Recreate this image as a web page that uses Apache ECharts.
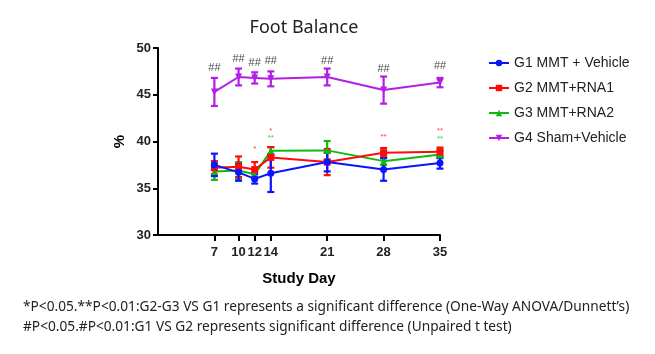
<!DOCTYPE html>
<html>
<head>
<meta charset="utf-8">
<script src="https://cdn.jsdelivr.net/npm/echarts@6/dist/echarts.min.js"></script>
<style>
  html, body { margin: 0; padding: 0; background: #fff; }
  #chart { width: 655px; height: 354px; }
</style>
</head>
<body>
<div id="chart"></div>
<script>
// study days on the x axis
const days = [7, 10, 12, 14, 21, 28, 35];

// group means (%) and SEM
const g1Mean = [37.5, 36.7, 36.0, 36.6, 37.8, 37.0, 37.7];
const g1Err = [1.2, 0.9, 0.5, 2.0, 1.0, 1.2, 0.6];
const g2Mean = [37.2, 37.3, 37.0, 38.3, 37.8, 38.8, 38.9];
const g2Err = [0.7, 1.1, 0.8, 1.1, 1.4, 0.5, 0.45];
const g3Mean = [36.8, 36.9, 36.5, 39.0, 39.05, 37.9, 38.6];
const g3Err = [0.9, 0.9, 0.5, 0.4, 1.0, 0.4, 0.4];
const g4Mean = [45.3, 46.9, 46.8, 46.7, 46.9, 45.5, 46.3];
const g4Err = [1.5, 0.9, 0.6, 0.8, 0.9, 1.45, 0.5];

const groupNames = ["G1 MMT + Vehicle", "G2 MMT+RNA1", "G3 MMT+RNA2", "G4 Sham+Vehicle"];
const yTicks = [30, 35, 40, 45, 50];

// significance marks: [day, y position, text]
const hashMarks = [[7, 47.85, "##"], [10, 48.8, "##"], [12, 48.45, "##"], [14, 48.6, "##"],
  [21, 48.65, "##"], [28, 47.8, "##"], [35, 48.1, "##"]];
const redStars = [[12, 39.2, "*"], [14, 41.1, "*"], [28, 40.45, "**"], [35, 41.15, "**"]];
const greenStars = [[14, 40.4, "**"], [35, 40.3, "**"]];

const chart = echarts.init(document.getElementById("chart"));

const groups = [
  { name: groupNames[3], mean: g4Mean, err: g4Err, color: "#b31ee6", symbol: "triangle", rotate: 180 },
  { name: groupNames[2], mean: g3Mean, err: g3Err, color: "#10b810", symbol: "triangle", rotate: 0 },
  { name: groupNames[1], mean: g2Mean, err: g2Err, color: "#ff0a0a", symbol: "rect", rotate: 0 },
  { name: groupNames[0], mean: g1Mean, err: g1Err, color: "#0a14ff", symbol: "circle", rotate: 0 },
];

function errorSeries(g) {
  return {
    type: "custom",
    silent: true,
    z: 3,
    data: days.map((d, i) => [d, g.mean[i] - g.err[i], g.mean[i] + g.err[i]]),
    encode: { x: 0, y: [1, 2] },
    renderItem: function (params, api) {
      const lo = api.coord([api.value(0), api.value(1)]);
      const hi = api.coord([api.value(0), api.value(2)]);
      const w = 3.5;
      const style = { stroke: g.color, lineWidth: 2.2 };
      return {
        type: "group",
        children: [
          { type: "line", shape: { x1: lo[0], y1: lo[1], x2: hi[0], y2: hi[1] }, style: style },
          { type: "line", shape: { x1: lo[0] - w, y1: lo[1], x2: lo[0] + w, y2: lo[1] }, style: style },
          { type: "line", shape: { x1: hi[0] - w, y1: hi[1], x2: hi[0] + w, y2: hi[1] }, style: style },
        ],
      };
    },
  };
}

function lineSeries(g) {
  return {
    name: g.name,
    type: "line",
    z: 4,
    data: days.map((d, i) => [d, g.mean[i]]),
    symbol: g.symbol,
    symbolRotate: g.rotate,
    symbolSize: 7,
    showAllSymbol: true,
    itemStyle: { color: g.color },
    lineStyle: { color: g.color, width: 2 },
    emphasis: { disabled: true },
  };
}

function markSeries(data, color, size) {
  return {
    type: "scatter",
    silent: true,
    z: 5,
    symbolSize: 0,
    data: data,
    label: {
      show: true,
      position: "inside",
      formatter: (p) => p.data[2],
      color: color,
      fontSize: size,
      fontFamily: "Liberation Sans",
    },
  };
}

const series = [];
groups.forEach((g) => {
  series.push(errorSeries(g));
  series.push(lineSeries(g));
});
series.push(markSeries(hashMarks, "#111", 11));
series.push(markSeries(redStars, "#ff0a0a", 8));
series.push(markSeries(greenStars, "#10b810", 8));

const option = {
  animation: false,
  title: {
    text: "Foot Balance",
    left: 299,
    textAlign: "center",
    top: 14,
    textStyle: { fontSize: 18, fontWeight: "normal", color: "#222", fontFamily: "Noto Sans" },
  },
  legend: {
    data: groupNames,
    orient: "vertical",
    left: 483,
    top: 51,
    itemWidth: 20,
    itemHeight: 8,
    itemGap: 11,
    textStyle: { fontSize: 14, color: "#222", fontFamily: "Liberation Sans" },
  },
  grid: { left: 158, right: 215, top: 48, bottom: 119 },
  xAxis: {
    type: "value",
    min: 0,
    max: 35,
    name: "Study Day",
    nameLocation: "middle",
    nameGap: 36,
    nameTextStyle: { fontSize: 15, fontWeight: "bold", color: "#000", fontFamily: "Liberation Sans" },
    axisLine: { lineStyle: { color: "#000", width: 2 } },
    axisTick: { customValues: days, length: 6, lineStyle: { color: "#000", width: 2 } },
    axisLabel: { customValues: days, fontSize: 13, fontWeight: "bold", color: "#222", margin: 11, fontFamily: "Liberation Sans" },
    splitLine: { show: false },
  },
  yAxis: {
    type: "value",
    min: yTicks[0],
    max: yTicks[yTicks.length - 1],
    interval: 5,
    name: "%",
    nameLocation: "middle",
    nameGap: 31,
    nameTextStyle: { fontSize: 15, fontWeight: "bold", color: "#000", fontFamily: "Liberation Sans" },
    axisLine: { show: true, lineStyle: { color: "#000", width: 2 } },
    axisTick: { show: true, length: 5, lineStyle: { color: "#000", width: 2 } },
    axisLabel: { fontSize: 13, fontWeight: "bold", color: "#222", margin: 7, fontFamily: "Liberation Sans" },
    splitLine: { show: false },
  },
  graphic: [
    {
      type: "text",
      left: 23,
      top: 299,
      scaleX: 0.913,
      style: {
        text: "*P<0.05.**P<0.01:G2-G3 VS G1 represents a significant difference (One-Way ANOVA/Dunnett’s)",
        fontSize: 15,
        fontFamily: "Noto Sans",
        fill: "#222",
      },
    },
    {
      type: "text",
      left: 23,
      top: 319,
      scaleX: 0.913,
      style: {
        text: "#P<0.05.#P<0.01:G1 VS G2 represents significant difference (Unpaired t test)",
        fontSize: 15,
        fontFamily: "Noto Sans",
        fill: "#222",
      },
    },
  ],
  series: series,
};

option && chart.setOption(option);
</script>
</body>
</html>
